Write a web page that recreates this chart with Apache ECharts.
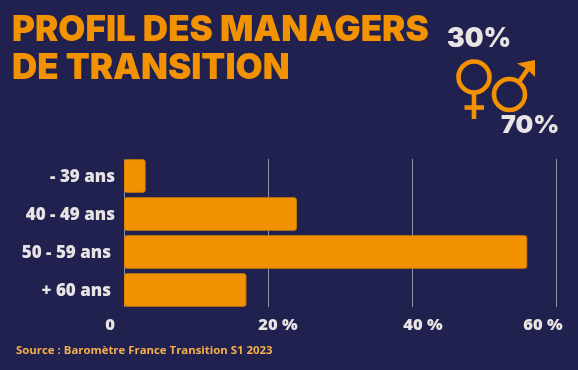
<!DOCTYPE html>
<html><head><meta charset="utf-8">
<style>html,body{margin:0;padding:0;background:#212150}#c{width:578px;height:370px}</style>
<script src="https://cdn.jsdelivr.net/npm/echarts@6/dist/echarts.min.js"></script>
</head><body><div id="c"></div>
<script>
const categories = ['- 39 ans','40 - 49 ans','50 - 59 ans','+ 60 ans'];
const values = [3,24,56,17];
const xTicks = [0,20,40,60];
const titleLines = 'PROFIL DES MANAGERS\nDE TRANSITION';
const femaleShare = '30%';
const maleShare = '70%';
const sourceText = 'Source : Baromètre France Transition S1 2023';
const ORANGE='#F39200', LIGHT='#E8E4E4', BG='#212150';
const catFont={color:LIGHT,fontFamily:'Open Sans',fontWeight:800,fontSize:17};
const tickFont={color:LIGHT,fontFamily:'Open Sans',fontWeight:800,fontSize:16.5};
const symStroke={stroke:ORANGE,lineWidth:4.6,fill:'none'};
const chart=echarts.init(document.getElementById('c'),null,{renderer:'canvas'});
chart.setOption({
 backgroundColor:BG,animation:false,
 grid:[{left:124,right:22,top:157,height:152},{left:124,right:22,top:159,height:148}],
 xAxis:[
  {gridIndex:0,type:'value',min:0,max:60,interval:20,show:false},
  {gridIndex:1,type:'value',min:0,max:60,interval:20,
   axisLine:{show:false},axisTick:{show:false},
   splitLine:{lineStyle:{color:'#8F8FA6',width:1}},
   axisLabel:{margin:10,formatter:v=>{
     const t=v===0?'0':v+' %';
     const k={0:'a',20:'b',40:'c',60:'d'}[v];
     return `{${k}|${t}}`;},
    rich:{a:{...tickFont,padding:[0,28,0,0]},b:{...tickFont,padding:[0,0,0,20]},c:{...tickFont,padding:[0,0,0,22]},d:{...tickFont,padding:[0,26,0,0]}}}}
 ],
 yAxis:[
  {gridIndex:0,type:'category',inverse:true,data:categories,
   axisLine:{show:false},axisTick:{show:false},
   axisLabel:{margin:9,formatter:(v,i)=>i<2?`{p|${v}}`:`{q|${v}}`,
    rich:{p:{...catFont,padding:[2,0,0,0]},q:{...catFont,padding:[2,4,0,0]}}}},
  {gridIndex:1,type:'value',min:0,max:1,show:false}
 ],
 series:[{type:'bar',xAxisIndex:0,yAxisIndex:0,data:values,barCategoryGap:'12%',
  itemStyle:{color:ORANGE,borderRadius:2,borderColor:'#D98300',borderWidth:1}}],
 graphic:[
  {type:'text',left:12,top:11,style:{text:titleLines,fill:ORANGE,font:'900 35px Inter',lineHeight:38}},
  {type:'text',x:447,y:26,style:{text:femaleShare,fill:LIGHT,font:'900 26.5px Inter'}},
  {type:'text',x:501,y:113,style:{text:maleShare,fill:LIGHT,font:'900 25px Inter'}},
  {type:'text',x:16,y:345,style:{text:sourceText,fill:'#F5AE4A',font:'700 11.4px "Open Sans"'}},
  {type:'circle',shape:{cx:474,cy:77,r:15.5},style:symStroke},
  {type:'line',shape:{x1:474,y1:93,x2:474,y2:119},style:symStroke},
  {type:'line',shape:{x1:464.5,y1:107.5,x2:484,y2:107.5},style:symStroke},
  {type:'circle',shape:{cx:509.5,cy:94.5,r:15.5},style:symStroke},
  {type:'line',shape:{x1:519,y1:82,x2:530,y2:66},style:symStroke},
  {type:'polygon',shape:{points:[[535,60],[517,63.5],[527,69],[535,77]]},style:{fill:ORANGE}}
 ]
});
</script></body></html>
